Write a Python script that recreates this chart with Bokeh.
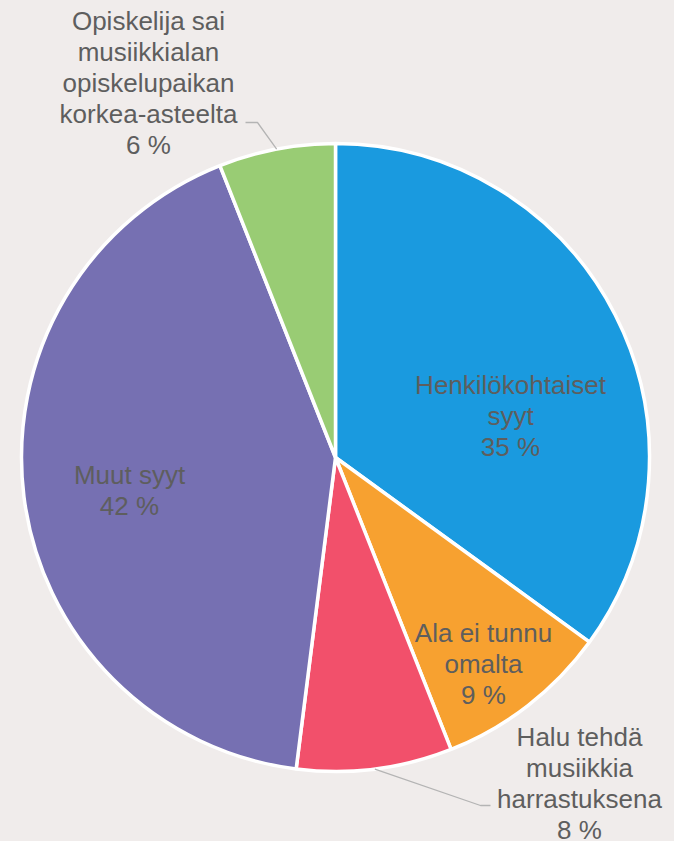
import math
from bokeh.plotting import figure
from bokeh.models import Range1d
from bokeh.core.properties import value
from bokeh.embed import file_html
from bokeh.resources import INLINE

# ---- data ----
categories = ["Henkilökohtaiset syyt", "Ala ei tunnu omalta",
              "Halu tehdä musiikkia harrastuksena", "Muut syyt",
              "Opiskelija sai musiikkialan opiskelupaikan korkea-asteelta"]
shares = [35, 9, 8, 42, 6]
label_lines = [["Henkilökohtaiset", "syyt", "35 %"],
               ["Ala ei tunnu", "omalta", "9 %"],
               ["Halu tehdä", "musiikkia", "harrastuksena", "8 %"],
               ["Muut syyt", "42 %"],
               ["Opiskelija sai", "musiikkialan", "opiskelupaikan", "korkea-asteelta", "6 %"]]

# ---- style / layout ----
colors = ["#1A9ADF", "#F7A130", "#F2506B", "#7670B2", "#99CC74"]
BG = "#F0ECEB"
TXT = "#5E5E5E"
W, H = 674, 841
def Y(sy):  # screen y (page px) -> data y
    return H - sy
cx, cy, R = 335, Y(457), 314
# label first-line baseline (page px) and center x
label_pos = [(510, 392), (483, 640), (579, 744), (129, 482), (148, 28)]
BASE_SHIFT = -8
LH = 31
leader_slices = {2: [(480, 805), (490, 805)], 4: [(257, 122), (245, 122)]}

p = figure(width=W, height=H, output_backend="svg", toolbar_location=None,
           x_range=Range1d(0, W), y_range=Range1d(0, H),
           min_border=0)
p.axis.visible = False
p.grid.visible = False
p.outline_line_color = None
p.background_fill_color = BG
p.border_fill_color = BG

total = sum(shares)
cum = 0.0
starts, ends, mids = [], [], []
for s in shares:
    a0 = math.pi / 2 - 2 * math.pi * cum / total
    cum += s
    a1 = math.pi / 2 - 2 * math.pi * cum / total
    starts.append(a0); ends.append(a1); mids.append((a0 + a1) / 2)

p.wedge(x=[cx] * len(shares), y=[cy] * len(shares), radius=R,
        start_angle=starts, end_angle=ends, direction="clock",
        fill_color=colors, line_color="white", line_width=3.5)

# leader lines
for i, pts in leader_slices.items():
    ex = cx + R * math.cos(mids[i])
    ey = cy + R * math.sin(mids[i])
    xs = [ex] + [q[0] for q in pts]
    ys = [ey] + [Y(q[1]) for q in pts]
    p.line(xs, ys, line_color="#B4B4B4", line_width=1.3)

# labels
for lines, (lx, ly) in zip(label_lines, label_pos):
    xs = [lx] * len(lines)
    ys = [Y(ly + BASE_SHIFT + k * LH) for k in range(len(lines))]
    p.text(x=xs, y=ys, text=lines, text_align="center",
           text_baseline="alphabetic", text_font=value("Liberation Sans"),
           text_font_size="26px", text_color=TXT)

html = file_html(p, INLINE)
html = html.replace("</head>", "<style>html,body{background:%s;margin:0;padding:0;overflow:hidden;}</style></head>" % BG, 1)
open("out.html", "w").write(html)
